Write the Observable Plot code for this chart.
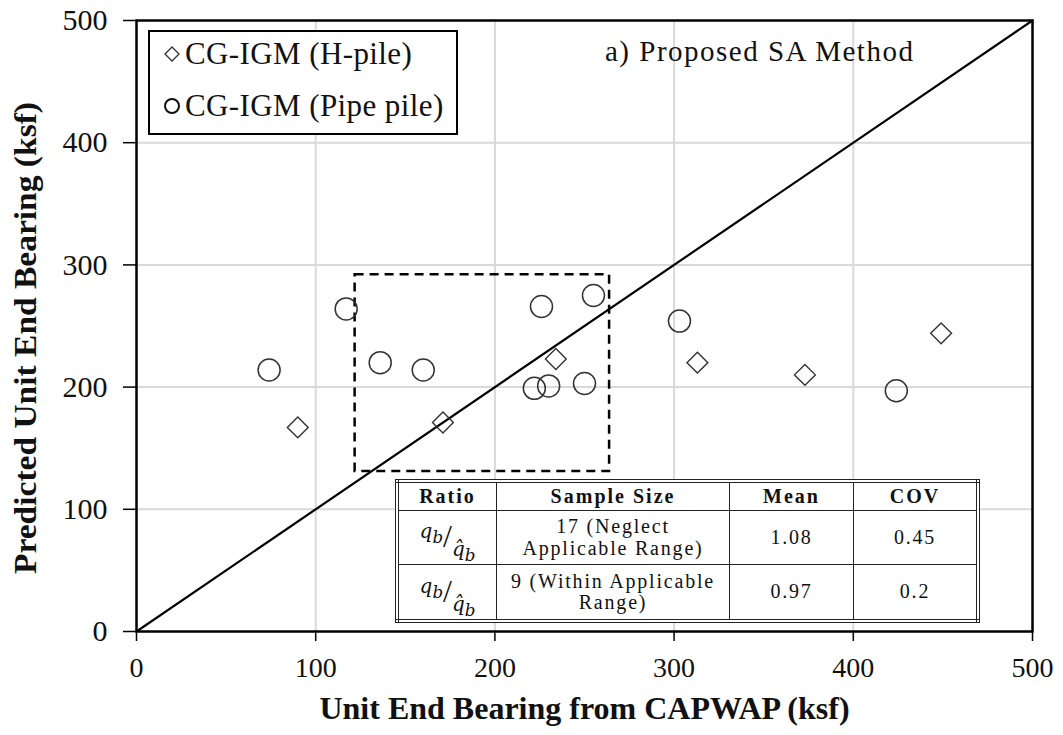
<!DOCTYPE html>
<html>
<head>
<meta charset="utf-8">
<script src="https://cdn.jsdelivr.net/npm/d3@7"></script>
<script src="https://cdn.jsdelivr.net/npm/@observablehq/plot@0.6"></script>
<style>
  html, body { margin: 0; padding: 0; background: #fff; }
  #wrap { position: relative; width: 1063px; height: 735px; font-family: "Liberation Serif", "Times New Roman", serif; }
  #wrap svg.plot { position: absolute; left: 0; top: 0; }
  .legend { position: absolute; left: 148px; top: 30px; width: 306px; height: 101px; border: 2px solid #000; background: #fff; font-size: 31px; color: #111; font-family: "Liberation Serif", serif; }
  .legend .row { position: absolute; left: 12px; display: flex; align-items: center; white-space: nowrap; letter-spacing: 0.4px; }
  .legend svg { margin-right: 3px; }
  .title { position: absolute; left: 605px; top: 35px; font-size: 29px; letter-spacing: 1.5px; color: #111; white-space: nowrap; font-family: "Liberation Serif", serif; }
  table.stats { position: absolute; left: 395px; top: 479px; width: 585px; height: 144px; border-collapse: collapse; background: #fff; border: 4px double #222; font-family: "Liberation Serif", "Times New Roman", serif; font-size: 20px; color: #111; }
  table.stats td, table.stats th { border: 1.5px solid #222; text-align: center; padding: 0; line-height: 1.08; letter-spacing: 1.8px; font-family: "Liberation Serif", serif; }
  table.stats th { font-weight: bold; height: 27px; letter-spacing: 2px; }
  .frac { font-style: italic; font-family: "DejaVu Serif", serif; font-size: 20px; white-space: nowrap; letter-spacing: 0; }
  .frac .num { position: relative; top: -9px; }
  .frac .sl { font-size: 32px; font-style: normal; font-family: "Liberation Serif", serif; }
  .frac .den { position: relative; top: 9px; }
</style>
</head>
<body>
<div id="wrap"></div>
<script>
// ---- data ----
const pipeX = [74, 117, 136, 160, 226, 255, 222, 230, 250, 303, 424];
const pipeY = [214, 264, 220, 214, 266, 275, 199, 201, 203, 254, 197];
const hX = [90, 171, 234, 313, 373, 449];
const hY = [167, 171, 223, 220, 210, 244];
const lineX = [0, 500];
const lineY = [0, 500];
const boxX = [122, 264];
const boxY = [131, 292];
const ticks = [0, 100, 200, 300, 400, 500];
const seriesNames = ["CG-IGM (H-pile)", "CG-IGM (Pipe pile)"];
const tableHeader = ["Ratio", "Sample Size", "Mean", "COV"];
const sampleSizes = ["17 (Neglect<br>Applicable Range)", "9 (Within Applicable<br>Range)"];
const means = ["1.08", "0.97"];
const covs = ["0.45", "0.2"];
const panelTitle = "a) Proposed SA Method";
const xLabel = "Unit End Bearing from CAPWAP (ksf)";
const yLabel = "Predicted Unit End Bearing (ksf)";

const pipe = pipeX.map((x, i) => ({x, y: pipeY[i]}));
const hpile = hX.map((x, i) => ({x, y: hY[i]}));
const diag = lineX.map((x, i) => ({x, y: lineY[i]}));

const chart = Plot.plot({
  width: 1063,
  height: 735,
  marginLeft: 136,
  marginRight: 31,
  marginTop: 20,
  marginBottom: 104,
  style: {fontFamily: "Liberation Serif, Times New Roman, serif", fontSize: "28px", color: "#111", background: "#fff", overflow: "visible"},
  x: {domain: [0, 500]},
  y: {domain: [0, 500]},
  marks: [
    Plot.gridX(ticks.slice(1, -1), {stroke: "#d9d9d9", strokeOpacity: 1, strokeWidth: 2}),
    Plot.gridY(ticks.slice(1, -1), {stroke: "#d9d9d9", strokeOpacity: 1, strokeWidth: 2}),
    Plot.axisX(ticks, {tickSize: 10, tickPadding: 16, stroke: "#000", strokeWidth: 1.5, label: null, fontSize: 28}),
    Plot.axisY(ticks, {tickSize: 13, tickPadding: 16, stroke: "#000", strokeWidth: 1.5, label: null, fontSize: 30}),
    Plot.line(diag, {x: "x", y: "y", stroke: "#000", strokeWidth: 2.2}),
    Plot.rect([{}], {x1: () => boxX[0], x2: () => boxX[1], y1: () => boxY[0], y2: () => boxY[1], fill: "none", stroke: "#000", strokeWidth: 2.5, strokeDasharray: "9,6"}),
    Plot.dot(pipe, {x: "x", y: "y", r: 11, symbol: "circle", stroke: "#333", strokeWidth: 1.5, fill: "none"}),
    Plot.dot(hpile, {x: "x", y: "y", r: 9.4, symbol: "diamond2", stroke: "#333", strokeWidth: 1.4, fill: "none"}),
    Plot.frame({stroke: "#000", strokeWidth: 2.5}),
    Plot.text([xLabel], {frameAnchor: "bottom", dy: 87, text: d => d, fontWeight: "bold", fontSize: 32, textAnchor: "middle", className: "xlab"}),
    Plot.text([yLabel], {frameAnchor: "left", dx: -110, dy: 12, rotate: -90, text: d => d, fontWeight: "bold", fontSize: 31, textAnchor: "middle", className: "ylab"})
  ]
});
chart.classList.add("plot");
// stretch the y label to the reference length
d3.select(chart).selectAll(".ylab text").attr("textLength", 472).attr("lengthAdjust", "spacingAndGlyphs");
const wrap = document.getElementById("wrap");
wrap.appendChild(chart);

// legend
const legend = document.createElement("div");
legend.className = "legend";
legend.innerHTML =
  `<div class="row" style="top:4px"><svg width="20" height="20" viewBox="-10 -10 20 20"><path d="M0,-7L7,0L0,7L-7,0Z" fill="none" stroke="#333" stroke-width="1.3"/></svg><span>${seriesNames[0]}</span></div>` +
  `<div class="row" style="top:56px"><svg width="20" height="20" viewBox="-10 -10 20 20"><circle r="7" fill="none" stroke="#111" stroke-width="2"/></svg><span>${seriesNames[1]}</span></div>`;
wrap.appendChild(legend);

const title = document.createElement("div");
title.className = "title";
title.textContent = panelTitle;
wrap.appendChild(title);

// table
const frac = `<span class="frac"><span class="num">q<sub>b</sub></span><span class="sl">/</span><span class="den">q̂<sub>b</sub></span></span>`;
const tbl = document.createElement("table");
tbl.className = "stats";
let html = `<tr>${tableHeader.map(h => `<th>${h}</th>`).join("")}</tr>`;
sampleSizes.forEach((s, i) => {
  html += `<tr><td style="width:97px">${frac}</td><td style="width:232px">${s}</td><td style="width:123px">${means[i]}</td><td>${covs[i]}</td></tr>`;
});
tbl.innerHTML = html;
wrap.appendChild(tbl);
</script>
</body>
</html>
